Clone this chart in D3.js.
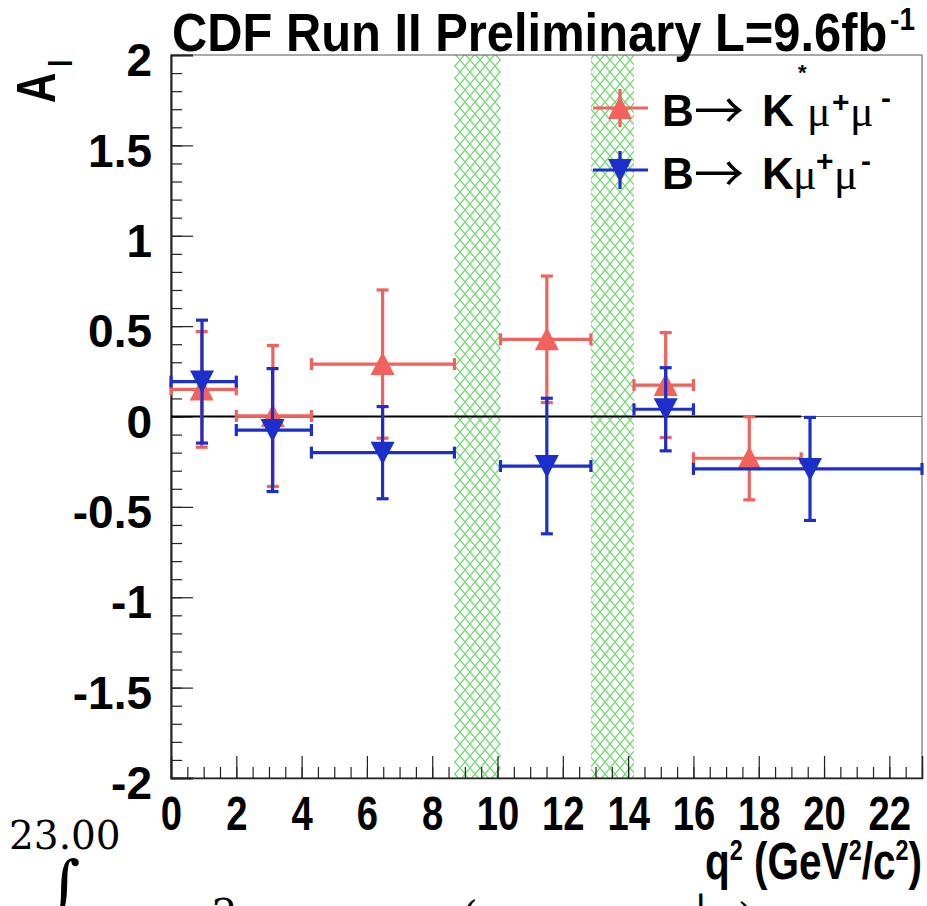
<!DOCTYPE html>
<html><head><meta charset="utf-8">
<script src="https://cdn.jsdelivr.net/npm/d3@7"></script>
<style>body{margin:0;background:#fff;overflow:hidden}svg{display:block}</style>
</head><body>
<svg id="c" width="927" height="906"></svg>
<script>
// ---------- data ----------
const vetoLo = [8.68, 12.86];
const vetoHi = [10.09, 14.18];

const kstarQ2   = [0.94, 3.12, 6.48, 11.51, 15.15, 17.71];
const kstarBinLo= [0, 2, 4.3, 10.09, 14.18, 16];
const kstarBinHi= [2, 4.3, 8.68, 12.86, 16, 19.3];
const kstarAI   = [0.150, 0.003, 0.290, 0.427, 0.174, -0.231];
const kstarErr  = [0.32, 0.39, 0.41, 0.35, 0.29, 0.23];

const kQ2   = [0.95, 3.11, 6.48, 11.51, 15.15, 19.57];
const kBinLo= [0, 2, 4.3, 10.09, 14.18, 16];
const kBinHi= [2, 4.3, 8.68, 12.86, 16, 23];
const kAI   = [0.193, -0.075, -0.200, -0.274, 0.040, -0.290];
const kErr  = [0.34, 0.34, 0.255, 0.375, 0.23, 0.285];

const yTickValues = [2, 1.5, 1, 0.5, 0, -0.5, -1, -1.5, -2];
const yTickLabels = ["2", "1.5", "1", "0.5", "0", "-0.5", "-1", "-1.5", "-2"];
const xTickValues = [0, 2, 4, 6, 8, 10, 12, 14, 16, 18, 20, 22];
const xTickLabels = ["0", "2", "4", "6", "8", "10", "12", "14", "16", "18", "20", "22"];
const zeroLineEnd = 19.3;

// ---------- setup ----------
const RED = "#f0625b", BLUE = "#1c2fcb", GREEN = "#72d872";
const svg = d3.select("#c");
const x = d3.scaleLinear().domain([0, 23]).range([171, 922]);
const y = d3.scaleLinear().domain([-2, 2]).range([778, 55]);
const BOLD = "'Liberation Sans', Arial, sans-serif";

// hatch pattern
const defs = svg.append("defs");
const pat = defs.append("pattern").attr("id", "hatch").attr("patternUnits", "userSpaceOnUse")
  .attr("width", 10).attr("height", 12);
pat.append("path").attr("d", "M0,0 L10,12 M10,0 L0,12")
  .attr("stroke", GREEN).attr("stroke-width", 1.3).attr("fill", "none");

// veto bands
svg.append("g").selectAll("rect").data(vetoLo).join("rect")
  .attr("x", (d, i) => x(d)).attr("width", (d, i) => x(vetoHi[i]) - x(d))
  .attr("y", y(2)).attr("height", y(-2) - y(2))
  .attr("fill", "url(#hatch)");

// frame
svg.append("rect").attr("x", x(0)).attr("y", y(2)).attr("width", x(23) - x(0)).attr("height", y(-2) - y(2))
  .attr("fill", "none").attr("stroke", "#555").attr("stroke-width", 1);

// y axis
const yMinorAx = d3.axisLeft(y).tickValues(y.ticks(40)).tickSize(-11).tickFormat("");
const gyMin = svg.append("g").attr("transform", `translate(${x(0)},0)`).call(yMinorAx);
gyMin.select(".domain").remove();
const yAx = d3.axisLeft(y).tickValues(yTickValues).tickSize(-22).tickPadding(19)
  .tickFormat((d, i) => yTickLabels[i]);
const gy = svg.append("g").attr("transform", `translate(${x(0)},0)`).call(yAx);
gy.select(".domain").attr("stroke", "#222").attr("stroke-width", 2);
gy.selectAll("text").attr("font-family", BOLD).attr("font-weight", "bold").attr("font-size", 46)
  .attr("fill", "#000").attr("dy", "0.45em");

// x axis
const xMinorAx = d3.axisBottom(x).tickValues(x.ticks(46)).tickSize(-11).tickFormat("");
const gxMin = svg.append("g").attr("transform", `translate(0,${y(-2)})`).call(xMinorAx);
gxMin.select(".domain").remove();
const xAx = d3.axisBottom(x).tickValues(xTickValues).tickSize(-22).tickPadding(17)
  .tickFormat((d, i) => xTickLabels[i]);
const gx = svg.append("g").attr("transform", `translate(0,${y(-2)})`).call(xAx);
gx.select(".domain").attr("stroke", "#222").attr("stroke-width", 1.5);
gx.selectAll("text").attr("font-family", BOLD).attr("font-weight", "bold").attr("font-size", 49)
  .attr("fill", "#000").attr("transform", "scale(0.78,1)");
svg.selectAll("g.tick line").attr("stroke", "#222").attr("stroke-width", 1.2);

// zero lines
svg.append("line").attr("x1", x(0)).attr("x2", x(23)).attr("y1", y(0)).attr("y2", y(0))
  .attr("stroke", "#666").attr("stroke-width", 1);
svg.append("line").attr("x1", x(0)).attr("x2", x(zeroLineEnd)).attr("y1", y(0)).attr("y2", y(0))
  .attr("stroke", "#000").attr("stroke-width", 2);

// data series
function series(q2, lo, hi, val, err, color, up) {
  const g = svg.append("g").attr("stroke", color).attr("stroke-width", 3.2).attr("fill", color);
  const idx = d3.range(q2.length);
  const cap = 6;
  idx.forEach(i => {
    const cx = x(q2[i]), cy = y(val[i]);
    const xl = x(lo[i]), xr = x(hi[i]);
    const yt = y(val[i] + err[i]), yb = y(val[i] - err[i]);
    g.append("line").attr("x1", xl).attr("x2", xr).attr("y1", cy).attr("y2", cy);
    g.append("line").attr("x1", cx).attr("x2", cx).attr("y1", yt).attr("y2", yb);
    g.append("line").attr("x1", xl).attr("x2", xl).attr("y1", cy - cap).attr("y2", cy + cap);
    g.append("line").attr("x1", xr).attr("x2", xr).attr("y1", cy - cap).attr("y2", cy + cap);
    g.append("line").attr("x1", cx - cap).attr("x2", cx + cap).attr("y1", yt).attr("y2", yt);
    g.append("line").attr("x1", cx - cap).attr("x2", cx + cap).attr("y1", yb).attr("y2", yb);
  });
  g.selectAll("path.m").data(idx).join("path").attr("class", "m")
    .attr("transform", i => `translate(${x(q2[i])},${y(val[i])})`)
    .attr("d", up ? "M0,-12 L12,11 L-12,11 Z" : "M0,12 L12,-11 L-12,-11 Z")
    .attr("stroke", "none");
}
series(kstarQ2, kstarBinLo, kstarBinHi, kstarAI, kstarErr, RED, true);
series(kQ2, kBinLo, kBinHi, kAI, kErr, BLUE, false);

// title
const t = svg.append("text").attr("x", 172).attr("y", 51).attr("font-family", BOLD)
  .attr("font-weight", "bold").attr("font-size", 54).attr("fill", "#000")
  .attr("textLength", 743).attr("lengthAdjust", "spacingAndGlyphs");
t.append("tspan").text("CDF Run II Preliminary L=9.6fb");
t.append("tspan").attr("dy", -21).attr("dx", 3).attr("font-size", 31).text("-1");

// y title
const yt = svg.append("text").attr("transform", "translate(55,103) rotate(-90) scale(0.75,1)")
  .attr("font-family", BOLD).attr("font-weight", "bold").attr("font-size", 56).attr("fill", "#000");
yt.append("tspan").text("A");
yt.append("tspan").attr("dy", 17).attr("dx", 8).attr("font-size", 34).text("l");

// x title
const xt = svg.append("text").attr("x", 922).attr("y", 879).attr("text-anchor", "end")
  .attr("font-family", BOLD).attr("font-weight", "bold").attr("font-size", 52).attr("fill", "#000")
  .attr("textLength", 217).attr("lengthAdjust", "spacingAndGlyphs");
xt.append("tspan").text("q");
xt.append("tspan").attr("dy", -19).attr("font-size", 30).text("2");
xt.append("tspan").attr("dy", 19).text(" (GeV");
xt.append("tspan").attr("dy", -19).attr("font-size", 30).text("2");
xt.append("tspan").attr("dy", 19).text("/c");
xt.append("tspan").attr("dy", -19).attr("font-size", 30).text("2");
xt.append("tspan").attr("dy", 19).text(")");

// legend
const legendLabels = [
  [["B", 662, 0, "b"], ["→", 694, 3, "a"], ["K", 762, 0, "b"], ["*", 798, -46, "s"], ["μ", 807, 0, "m"], ["+", 832, -14, "p"], ["μ", 850, 0, "m"], ["-", 881, -18, "p"]],
  [["B", 662, 0, "b"], ["→", 694, 3, "a"], ["K", 762, 0, "b"], ["μ", 793, 0, "m"], ["+", 816, -18, "p"], ["μ", 834, 0, "m"], ["-", 861, -18, "p"]]
];
const legendColors = [RED, BLUE];
const legendY = [108, 170];
const legendBase = [126, 189];
legendY.forEach((ly, k) => {
  const g = svg.append("g").attr("stroke", legendColors[k]).attr("stroke-width", 3.2).attr("fill", legendColors[k]);
  g.append("line").attr("x1", 593).attr("x2", 648).attr("y1", ly).attr("y2", ly);
  g.append("line").attr("x1", 620).attr("x2", 620).attr("y1", ly - 19).attr("y2", ly + 19);
  g.append("path").attr("transform", `translate(620,${ly})`).attr("stroke", "none")
    .attr("d", k === 0 ? "M0,-12 L12,11 L-12,11 Z" : "M0,12 L12,-11 L-12,-11 Z");
  const tx = svg.append("text").attr("y", legendBase[k]).attr("fill", "#000");
  legendLabels[k].forEach(p => {
    const s = tx.append("tspan").attr("x", p[1]).attr("y", legendBase[k] + p[2]).text(p[0]);
    if (p[3] === "b") s.attr("font-family", BOLD).attr("font-weight", "bold").attr("font-size", 44);
    if (p[3] === "a") s.attr("font-family", "'Noto Sans CJK JP', 'DejaVu Sans', sans-serif").attr("font-size", 50);
    if (p[3] === "s") s.attr("font-family", BOLD).attr("font-weight", "bold").attr("font-size", 22);
    if (p[3] === "m") s.attr("font-family", "'Liberation Serif', serif").attr("font-size", 44);
    if (p[3] === "p") s.attr("font-family", BOLD).attr("font-weight", "bold").attr("font-size", 30);
  });
});

// stray annotation below the chart (partly cut off at the bottom edge)
const SERIF = "'DejaVu Serif', serif";
svg.append("text").attr("x", 9).attr("y", 849).attr("font-family", SERIF)
  .attr("font-size", 39).attr("fill", "#000").text("23.00");
svg.append("text").attr("x", 48).attr("y", 905).attr("font-family", SERIF)
  .attr("font-size", 62).attr("fill", "#000").text("∫");
svg.append("text").attr("x", 212).attr("y", 927).attr("font-family", SERIF)
  .attr("font-size", 40).attr("fill", "#000").text("2");
svg.append("text").attr("x", 462).attr("y", 929).attr("font-family", SERIF)
  .attr("font-size", 40).attr("fill", "#000").text("(");
svg.append("text").attr("x", 694).attr("y", 924).attr("font-family", SERIF)
  .attr("font-size", 40).attr("fill", "#000").text("|");
svg.append("text").attr("x", 738).attr("y", 931).attr("font-family", SERIF)
  .attr("font-size", 40).attr("fill", "#000").text(")");
</script>
</body></html>
